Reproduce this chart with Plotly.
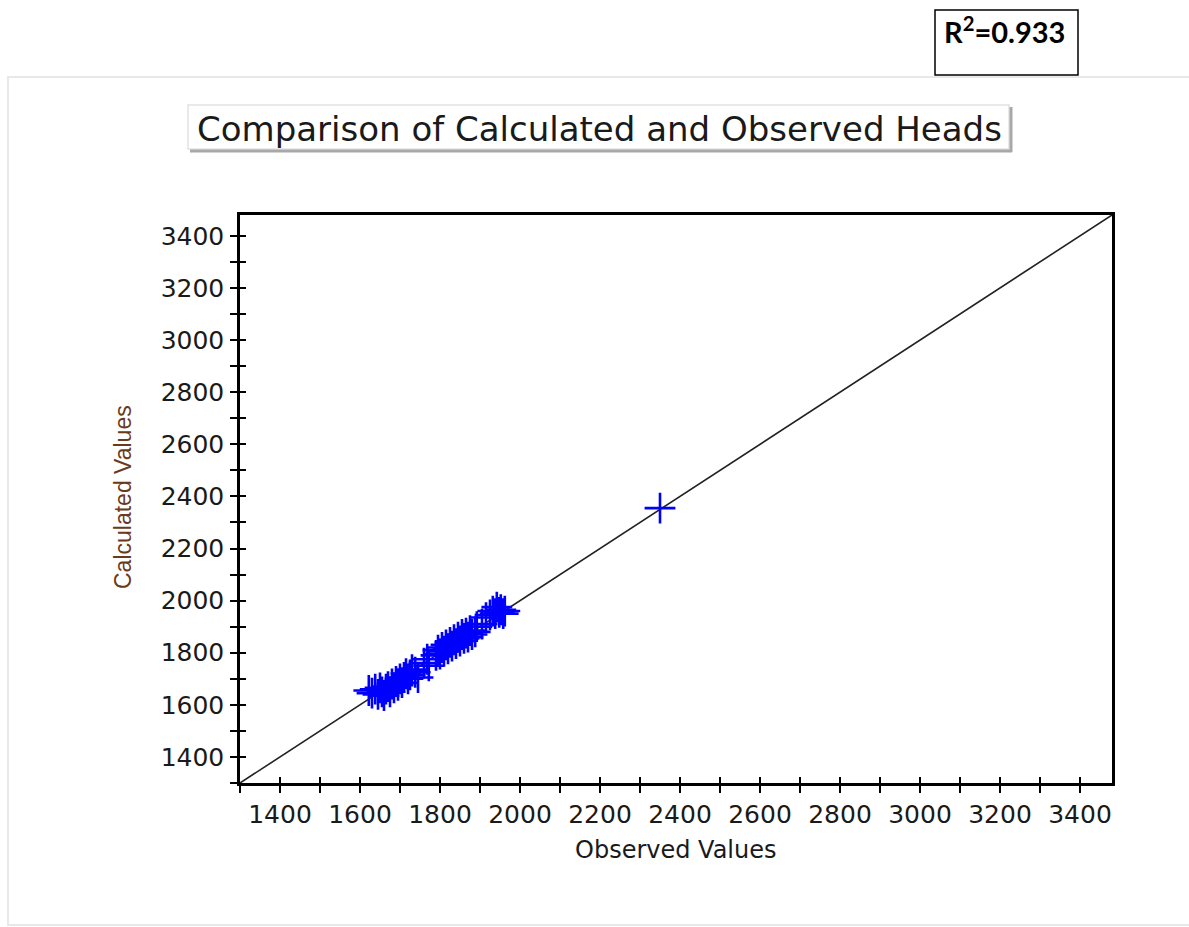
import plotly.graph_objects as go

# ---------------- data ----------------
observed = [1622, 1630, 1638, 1645, 1650, 1655, 1660, 1665, 1670, 1675, 1680, 1685, 1690,
            1695, 1700, 1705, 1710, 1715, 1720, 1725, 1730, 1738,
            1745, 1760, 1772, 1768,
            1790, 1795, 1800, 1805, 1810, 1815, 1820, 1825, 1830, 1835, 1840, 1845, 1850,
            1855, 1860, 1865, 1870, 1875, 1880, 1888, 1892,
            1905, 1915,
            1925, 1932, 1938, 1942, 1948, 1952, 1958, 1962,
            2350]
calculated = [1655, 1645, 1660, 1640, 1665, 1650, 1635, 1660, 1670, 1650, 1680, 1665, 1690,
              1675, 1700, 1685, 1705, 1720, 1700, 1715, 1735, 1725,
              1705, 1760, 1750, 1775,
              1790, 1810, 1795, 1820, 1805, 1830, 1815, 1840, 1825, 1850, 1835, 1860, 1845,
              1870, 1855, 1875, 1860, 1885, 1870, 1880, 1900,
              1910, 1935,
              1945, 1960, 1950, 1975, 1955, 1965, 1950, 1960,
              2355]
one_to_one = [1300, 3480]
axis_range = [1300, 3480]
tick_values = [1400, 1600, 1800, 2000, 2200, 2400, 2600, 2800, 3000, 3200, 3400]
chart_title = "Comparison of Calculated and Observed Heads"
x_label = "Observed Values"
y_label = "Calculated Values"
r2_text = "R<sup>2</sup>=0.933"

# ---------------- layout geometry (pixels) ----------------
W, H = 1189, 927
L, R, T, B = 240, 1112, 215, 783


def px(x):
    return (x - L) / (R - L)


def py(y):
    return (B - y) / (B - T)


fig = go.Figure()

fig.add_trace(go.Scatter(x=one_to_one, y=one_to_one, mode="lines",
                         line=dict(color="#222222", width=1.6),
                         showlegend=False, hoverinfo="skip"))
fig.add_trace(go.Scatter(x=observed, y=calculated, mode="markers",
                         marker=dict(symbol="cross-thin", size=22,
                                     line=dict(color="#0000ff", width=2.6)),
                         showlegend=False))
# invisible trace for overlay axes (inside ticks)
fig.add_trace(go.Scatter(x=[None], y=[None], xaxis="x2", yaxis="y2",
                         showlegend=False, hoverinfo="skip"))

tick_font = dict(family="DejaVu Sans", size=25, color="#1a1a1a")

common_major = dict(range=axis_range, tickmode="array", tickvals=tick_values,
                    showgrid=False, zeroline=False)
minor = dict(dtick=100, tick0=1300, ticklen=7, tickwidth=2, tickcolor="black",
             showgrid=False)

fig.update_layout(
    width=W, height=H,
    margin=dict(l=L, r=W - R, t=T, b=H - B),
    paper_bgcolor="white", plot_bgcolor="white",
    showlegend=False,
    xaxis=dict(**common_major, ticks="outside", ticklen=7, tickwidth=2, tickcolor="black",
               minor=dict(**minor, ticks="outside"),
               showline=True, linecolor="black", linewidth=2.5, mirror=True,
               tickfont=tick_font, ticklabelstandoff=0),
    yaxis=dict(**common_major, ticks="outside", ticklen=7, tickwidth=2, tickcolor="black",
               minor=dict(**minor, ticks="outside"),
               showline=True, linecolor="black", linewidth=2.5, mirror=True,
               tickfont=tick_font, ticklabelstandoff=1),
    xaxis2=dict(**common_major, overlaying="x", anchor="y", side="bottom",
                ticks="inside", ticklen=6, tickwidth=2, tickcolor="black",
                minor=dict(dtick=100, tick0=1300, ticklen=6, tickwidth=2, tickcolor="black",
                           ticks="inside", showgrid=False),
                showticklabels=False, showline=False),
    yaxis2=dict(**common_major, overlaying="y", anchor="x", side="left",
                ticks="inside", ticklen=6, tickwidth=2, tickcolor="black",
                minor=dict(dtick=100, tick0=1300, ticklen=6, tickwidth=2, tickcolor="black",
                           ticks="inside", showgrid=False),
                showticklabels=False, showline=False),
)

shapes = [
    # outer light frame
    dict(type="rect", xref="paper", yref="paper", x0=px(8), x1=px(1195), y0=py(925), y1=py(77),
         line=dict(color="#e8e8e8", width=2), fillcolor="rgba(0,0,0,0)", layer="below"),
    # title button
    dict(type="rect", xref="paper", yref="paper", x0=px(188), x1=px(1009), y0=py(149), y1=py(105),
         line=dict(color="#e2e2e2", width=1.5), fillcolor="white", layer="below"),
    dict(type="line", xref="paper", yref="paper", x0=px(190), x1=px(1012), y0=py(151), y1=py(151),
         line=dict(color="#a8a8a8", width=3)),
    dict(type="line", xref="paper", yref="paper", x0=px(1011), x1=px(1011), y0=py(107), y1=py(152),
         line=dict(color="#a8a8a8", width=3)),
    # R^2 box
    dict(type="rect", xref="paper", yref="paper", x0=px(935), x1=px(1078), y0=py(75), y1=py(10),
         line=dict(color="black", width=1.5), fillcolor="white"),
]
fig.update_layout(shapes=shapes)

annotations = [
    dict(text=chart_title, xref="paper", yref="paper", x=px(599), y=py(129),
         xanchor="center", yanchor="middle", showarrow=False,
         font=dict(family="DejaVu Sans", size=34, color="#1a1a1a")),
    dict(text=r2_text, xref="paper", yref="paper", x=px(1004), y=py(30),
         xanchor="center", yanchor="middle", showarrow=False,
         font=dict(family="Lato", size=29, color="black", weight="bold")),
    dict(text=x_label, xref="paper", yref="paper", x=px(676), y=py(850),
         xanchor="center", yanchor="middle", showarrow=False,
         font=dict(family="DejaVu Sans", size=24, color="#1a1a1a")),
    dict(text=y_label, xref="paper", yref="paper", x=px(123), y=py(497),
         xanchor="center", yanchor="middle", showarrow=False, textangle=-90,
         font=dict(family="Liberation Sans", size=23, color="#6a3a1c")),
]
fig.update_layout(annotations=annotations)

fig.write_html("out.html")
